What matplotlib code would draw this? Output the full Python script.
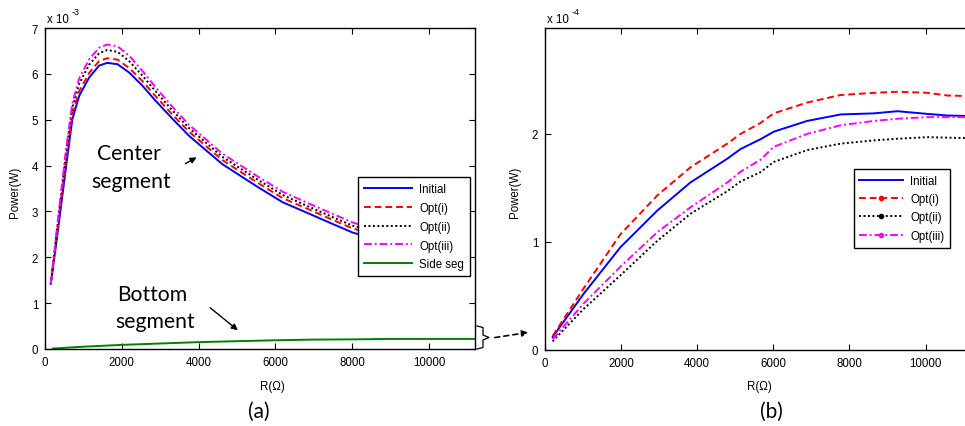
import numpy as np
import matplotlib
matplotlib.use("Agg")
import matplotlib.pyplot as plt
from matplotlib.lines import Line2D

plt.rcParams['font.family'] = ['Liberation Sans', 'DejaVu Sans']
plt.rcParams['font.size'] = 8.3

# ---- panel (a): power of the center segment (x 1e-3 W) ----
r_a = [150, 300, 540, 710, 890, 1150, 1410, 1620, 1890, 2190, 2540, 2840, 3320,
       3750, 4620, 5490, 6190, 6800, 7400, 8010, 9000, 10000, 10600]
initial_a = [1.42, 2.35, 3.92, 5.00, 5.52, 5.92, 6.18, 6.24, 6.21, 6.03, 5.74, 5.45, 5.02,
             4.65, 4.03, 3.56, 3.20, 2.98, 2.76, 2.54, 2.30, 2.10, 2.00]
opt1_a = [1.42, 2.42, 4.05, 5.10, 5.62, 6.02, 6.28, 6.34, 6.31, 6.13, 5.84, 5.55, 5.11,
          4.74, 4.12, 3.65, 3.29, 3.07, 2.85, 2.63, 2.39, 2.18, 2.08]
opt2_a = [1.42, 2.50, 4.20, 5.25, 5.78, 6.20, 6.45, 6.52, 6.48, 6.28, 5.96, 5.66, 5.20,
          4.82, 4.19, 3.72, 3.36, 3.13, 2.91, 2.69, 2.45, 2.24, 2.13]
opt3_a = [1.42, 2.55, 4.30, 5.35, 5.90, 6.32, 6.57, 6.64, 6.60, 6.40, 6.06, 5.75, 5.28,
          4.89, 4.26, 3.79, 3.43, 3.20, 2.98, 2.76, 2.51, 2.30, 2.19]
r_side = [200, 1000, 2000, 3000, 4000, 5000, 6000, 7000, 8000, 9000, 10000, 11200]
side_seg = [0.01, 0.05, 0.09, 0.12, 0.15, 0.17, 0.19, 0.205, 0.21, 0.22, 0.22, 0.22]

# ---- panel (b): bottom segment (x 1e-4 W) ----
r_b = [200, 1015, 1980, 2950, 3820, 4790, 5140, 5660, 6010, 6890, 7770, 8650, 9260,
       10050, 10580, 11200]
initial_b = [0.12, 0.52, 0.95, 1.29, 1.55, 1.77, 1.86, 1.95, 2.02, 2.12, 2.18, 2.19, 2.21,
             2.185, 2.17, 2.165]
opt1_b = [0.13, 0.57, 1.07, 1.43, 1.69, 1.91, 2.00, 2.10, 2.19, 2.29, 2.36, 2.38, 2.39,
          2.38, 2.355, 2.35]
opt2_b = [0.08, 0.38, 0.69, 1.01, 1.26, 1.47, 1.56, 1.645, 1.74, 1.85, 1.91, 1.94, 1.955,
          1.97, 1.965, 1.96]
opt3_b = [0.10, 0.43, 0.77, 1.09, 1.32, 1.55, 1.65, 1.76, 1.88, 2.00, 2.08, 2.12, 2.14,
          2.155, 2.155, 2.155]

W, H = 965, 427
fig = plt.figure(figsize=(W / 100, H / 100), dpi=100)


def fx(px):
    return px / W


def fy(py):
    return 1 - py / H


def style_axes(ax):
    ax.tick_params(direction='in', top=True, right=True, length=4, width=0.8, pad=5)
    for s in ax.spines.values():
        s.set_linewidth(1.0)


xmax = 11200
ax1 = fig.add_axes([fx(45), fy(350), fx(475) - fx(45), fy(29) - fy(350)])
ax1.plot(r_a, np.array(initial_a) * 1e-3, color='#0000ff', lw=1.4, label='Initial')
ax1.plot(r_a, np.array(opt1_a) * 1e-3, color='#ff0000', lw=1.4, ls=(0, (3.5, 2)), label='Opt(i)')
ax1.plot(r_a, np.array(opt2_a) * 1e-3, color='black', lw=1.4, ls=(0, (1, 1.3)), label='Opt(ii)')
ax1.plot(r_a, np.array(opt3_a) * 1e-3, color='#ff00ff', lw=1.4, ls=(0, (4, 1.5, 1, 1.5)), label='Opt(iii)')
ax1.plot(r_side, np.array(side_seg) * 1e-3, color='#008000', lw=1.4, label='Side seg')
ax1.set_xlim(0, xmax)
ax1.set_ylim(0, 7e-3)
ax1.set_xticks([0, 2000, 4000, 6000, 8000, 10000])
ax1.set_yticks(np.arange(0, 8) * 1e-3)
ax1.set_yticklabels([str(i) for i in range(8)])
style_axes(ax1)
leg1 = ax1.legend(loc='upper right', bbox_to_anchor=((470 - 45) / 430, (350 - 178) / 321),
                  borderaxespad=0, fancybox=False, edgecolor='black', framealpha=1,
                  handlelength=4.2, borderpad=0.5, labelspacing=0.6, handletextpad=0.6,
                  fontsize=8.3)
leg1.get_frame().set_linewidth(1.0)

# annotations on panel (a)
ann_font = dict(family=['Lato', 'DejaVu Sans'], fontsize=15.2)
fig.text(fx(129), fy(160), 'Center', ha='center', va='baseline', **ann_font)
fig.text(fx(131), fy(188), 'segment', ha='center', va='baseline', **ann_font)
fig.text(fx(152), fy(301.5), 'Bottom', ha='center', va='baseline', **ann_font)
fig.text(fx(155), fy(328), 'segment', ha='center', va='baseline', **ann_font)
fig.add_artist(matplotlib.patches.FancyArrowPatch((fx(183), fy(166)), (fx(199), fy(157)),
               transform=fig.transFigure, arrowstyle='-|>', mutation_scale=9, color='black', lw=1))
fig.add_artist(matplotlib.patches.FancyArrowPatch((fx(208), fy(307)), (fx(240), fy(333)),
               transform=fig.transFigure, arrowstyle='-|>', mutation_scale=9, color='black', lw=1))
# bracket and dashed link between panels
bx = [477, 483, 483, 489, 483, 483, 477]
by = [327, 328.5, 336, 338.5, 341, 348.5, 350]
fig.add_artist(Line2D([fx(v) for v in bx], [fy(v) for v in by], transform=fig.transFigure,
                      color='black', lw=0.9))
fig.add_artist(matplotlib.patches.FancyArrowPatch((fx(492), fy(339)), (fx(531), fy(333)),
               transform=fig.transFigure, arrowstyle='-|>', mutation_scale=9, color='black',
               lw=1.2, linestyle=(0, (3, 2.5))))

ax2 = fig.add_axes([fx(545), fy(351), (xmax * 0.03805) / W, fy(29) - fy(351)])
ax2.plot(r_b, np.array(initial_b) * 1e-4, color='#0000ff', lw=1.4)
ax2.plot(r_b, np.array(opt1_b) * 1e-4, color='#ff0000', lw=1.4, ls=(0, (3.5, 2)))
ax2.plot(r_b, np.array(opt2_b) * 1e-4, color='black', lw=1.4, ls=(0, (1, 1.3)))
ax2.plot(r_b, np.array(opt3_b) * 1e-4, color='#ff00ff', lw=1.4, ls=(0, (4, 1.5, 1, 1.5)))
ax2.set_xlim(0, xmax)
ax2.set_ylim(0, 2.98e-4)
ax2.set_xticks([0, 2000, 4000, 6000, 8000, 10000])
ax2.set_yticks([0, 1e-4, 2e-4])
ax2.set_yticklabels(['0', '1', '2'])
style_axes(ax2)
handles_b = [
    Line2D([], [], color='#0000ff', lw=1.4),
    Line2D([], [], color='#ff0000', lw=1.4, ls=(0, (3.5, 2)), marker='.', markersize=6),
    Line2D([], [], color='black', lw=1.4, ls=(0, (1, 1.3)), marker='.', markersize=6),
    Line2D([], [], color='#ff00ff', lw=1.4, ls=(0, (4, 1.5, 1, 1.5)), marker='.', markersize=6),
]
leg2 = ax2.legend(handles_b, ['Initial', 'Opt(i)', 'Opt(ii)', 'Opt(iii)'], loc='upper right',
                  bbox_to_anchor=((950 - 545) / (xmax * 0.03805), (351 - 170) / 322),
                  borderaxespad=0, fancybox=False, edgecolor='black', framealpha=1,
                  handlelength=3.8, numpoints=1, borderpad=0.5, labelspacing=0.55,
                  handletextpad=0.6, fontsize=8.3)
leg2.get_frame().set_linewidth(1.0)

# axis labels, exponents and panel tags
for xc, yl_x, tag_x in [(272, 15, 259), (759, 515, 771)]:
    fig.text(fx(xc), fy(387), 'R(Ω)', ha='center', va='center', fontsize=8.3)
    fig.text(fx(yl_x), fy(192), 'Power(W)', ha='center', va='center', rotation=90, fontsize=8.3)
    fig.text(fx(tag_x), fy(412), '(a)' if tag_x < 500 else '(b)', ha='center', va='center',
             family=['Lato', 'DejaVu Sans'], fontsize=15)
fig.text(fx(47), fy(23), 'x 10', ha='left', va='baseline', fontsize=8.3)
fig.text(fx(71.5), fy(15), '-3', ha='left', va='baseline', fontsize=6.5)
fig.text(fx(547), fy(23), 'x 10', ha='left', va='baseline', fontsize=8.3)
fig.text(fx(571.5), fy(15), '-4', ha='left', va='baseline', fontsize=6.5)

fig.savefig('out.png', dpi=100)
